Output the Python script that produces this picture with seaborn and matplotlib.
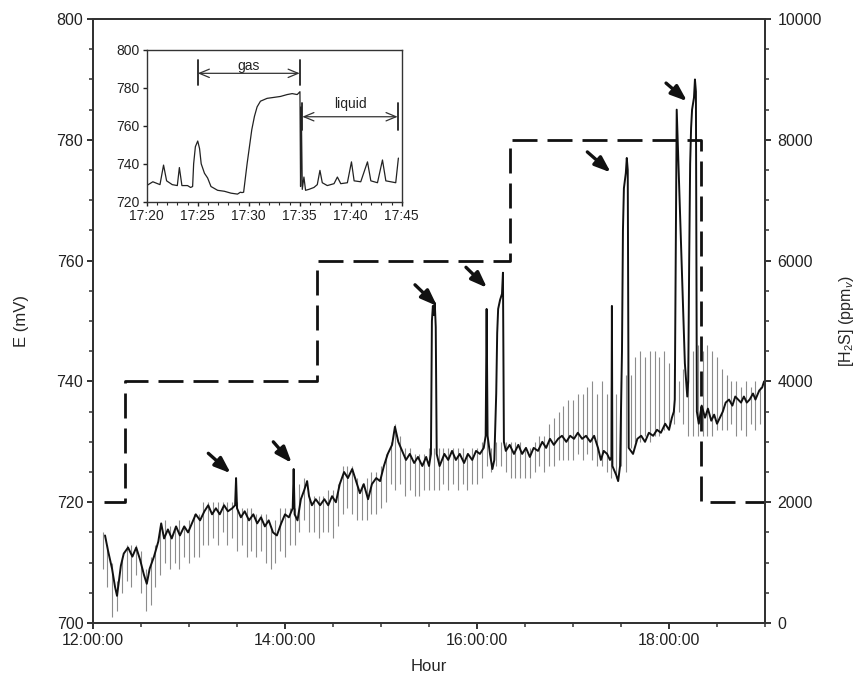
import numpy as np
import pandas as pd
import matplotlib
matplotlib.use("Agg")
import matplotlib.pyplot as plt
from matplotlib.ticker import MultipleLocator
import seaborn as sns

# ---------------- data ----------------
# main electrode potential trace (hours since midnight, mV)
black_t = [12.125, 12.156, 12.198, 12.229, 12.25, 12.27, 12.29, 12.32, 12.365, 12.41,
           12.45, 12.49, 12.53, 12.56, 12.59, 12.635, 12.68, 12.71, 12.74, 12.78,
           12.82, 12.865, 12.905, 12.95, 12.99, 13.03, 13.07, 13.115, 13.16, 13.2,
           13.24, 13.28, 13.32, 13.365, 13.405, 13.45, 13.48, 13.49, 13.5, 13.54,
           13.58, 13.625, 13.67, 13.71, 13.75, 13.79, 13.83, 13.875, 13.915, 13.96,
           14.0, 14.04, 14.08, 14.09, 14.1, 14.13, 14.165, 14.2, 14.23, 14.25,
           14.28, 14.32, 14.365, 14.41, 14.45, 14.49, 14.53, 14.57, 14.615, 14.655,
           14.7, 14.74, 14.78, 14.82, 14.865, 14.905, 14.95, 14.99, 15.03, 15.07,
           15.115, 15.145, 15.18, 15.22, 15.26, 15.3, 15.345, 15.385, 15.43, 15.47,
           15.5, 15.52, 15.53, 15.54, 15.55, 15.56, 15.57, 15.58, 15.61, 15.66,
           15.7, 15.74, 15.78, 15.82, 15.865, 15.905, 15.95, 15.99, 16.03, 16.07,
           16.09, 16.1, 16.11, 16.135, 16.16, 16.18, 16.2, 16.21, 16.22, 16.24,
           16.26, 16.27, 16.28, 16.3, 16.34, 16.385, 16.43, 16.47, 16.51, 16.55,
           16.59, 16.635, 16.68, 16.72, 16.76, 16.8, 16.845, 16.885, 16.93, 16.97,
           17.01, 17.05, 17.095, 17.135, 17.18, 17.22, 17.26, 17.29, 17.32, 17.355,
           17.385, 17.4, 17.405, 17.41, 17.45, 17.47, 17.49, 17.51, 17.52, 17.53,
           17.55, 17.56, 17.57, 17.58, 17.625, 17.67, 17.71, 17.75, 17.79, 17.835,
           17.875, 17.915, 17.96, 18.0, 18.03, 18.05, 18.06, 18.07, 18.08, 18.1,
           18.125, 18.145, 18.165, 18.19, 18.2, 18.21, 18.22, 18.23, 18.24, 18.26,
           18.27, 18.28, 18.29, 18.31, 18.34, 18.375, 18.405, 18.44, 18.47, 18.5,
           18.53, 18.56, 18.59, 18.625, 18.66, 18.69, 18.72, 18.75, 18.78, 18.81,
           18.84, 18.875, 18.9, 18.94, 18.97, 18.99]
black_E = [714.5, 712, 709, 706, 704.5, 707, 709.5, 711.5, 712.5, 711,
           712.5, 710.5, 708, 706.5, 709, 711, 713.5, 716.5, 714, 715.5,
           714, 716, 714.5, 716, 715, 716.5, 718, 717, 718.5, 719.5,
           718, 719, 718, 719.5, 718.5, 719, 719.5, 724, 719, 717.5,
           718.5, 717, 718, 716.5, 717.5, 716, 717, 715, 714.5, 716.5,
           718, 717.5, 719, 725.5, 718, 717, 720.5, 722, 723.5, 721,
           719.5, 720.5, 719.5, 720.5, 719.5, 721, 720, 723, 725, 724,
           725.5, 723.5, 721.5, 723, 720.5, 723, 724, 723.5, 726, 728,
           729.5, 732.5, 730, 728.5, 727, 728, 726.5, 727.5, 726, 727.5,
           726, 728, 750, 752.5, 751, 753, 749, 728, 726, 728,
           727, 728.5, 727, 728, 726.5, 728, 727, 728.5, 728, 729,
           731, 752, 731, 728, 725.5, 727, 738, 748, 752, 753.5,
           754.5, 758, 730, 728.5, 729.5, 728, 729.5, 728, 729, 727.5,
           729, 728.5, 730, 729, 730.5, 729.5, 730.5, 731, 730, 731,
           730.5, 731.5, 730.5, 731, 730, 731, 729, 727, 728.5, 728,
           727, 727.5, 752.5, 726, 724.5, 723.5, 726, 745, 765, 772,
           774.5, 777, 775, 729, 728, 730.5, 731, 730, 731.5, 731,
           732, 731.5, 733, 732, 734, 735, 737, 760, 785, 775,
           762, 752, 743, 737.5, 740, 760, 776, 782, 785, 787,
           790, 788, 735, 733, 736, 734, 735.5, 733.5, 734.5, 733,
           734, 735, 736.5, 737, 736, 737.5, 737, 736.5, 737.5, 736.5,
           737, 738, 737, 738.5, 739, 740]

# rapid oscillation of the raw signal (gray hairlines), one every 3 min, 12:06 -> 19:00
gray_hi = [715, 713, 710, 707, 711, 713, 713, 713, 712, 709,
           711, 713, 716, 717, 716, 716, 717, 716, 717, 718,
           718, 720, 720, 720, 720, 720, 720, 720, 720, 719,
           719, 719, 718, 718, 718, 716, 717, 719, 719, 719,
           719, 723, 724, 721, 721, 721, 721, 722, 722, 723,
           726, 726, 726, 724, 723, 724, 725, 725, 726, 728,
           730, 733, 731, 729, 729, 728, 728, 728, 729, 729,
           729, 729, 729, 729, 729, 729, 728, 729, 729, 730,
           731, 729, 730, 730, 730, 730, 730, 730, 729, 729,
           730, 731, 731, 733, 734, 735, 736, 737, 737, 738,
           738, 739, 740, 738, 740, 738, 739, 738, 740, 741,
           741, 744, 745, 744, 745, 745, 744, 745, 743, 742,
           740, 742, 744, 745, 746, 745, 746, 745, 744, 742,
           741, 740, 740, 739, 740, 739, 740, 739, 740]
gray_lo = [709, 706, 701, 702, 705, 707, 706, 708, 705, 702,
           703, 706, 708, 710, 709, 710, 709, 711, 710, 711,
           711, 713, 713, 714, 713, 715, 713, 714, 712, 713,
           711, 712, 711, 712, 710, 709, 710, 712, 711, 713,
           713, 715, 717, 715, 715, 714, 715, 715, 714, 716,
           718, 719, 718, 717, 717, 717, 718, 718, 719, 720,
           723, 722, 723, 721, 722, 721, 721, 722, 722, 722,
           722, 723, 722, 723, 722, 723, 722, 723, 723, 724,
           726, 725, 726, 726, 725, 724, 724, 724, 724, 724,
           725, 726, 725, 726, 726, 727, 727, 727, 727, 728,
           727, 728, 727, 726, 726, 725, 724, 724, 726, 725,
           729, 730, 730, 731, 730, 731, 731, 732, 732, 733,
           735, 733, 731, 731, 731, 731, 731, 731, 732, 732,
           732, 733, 731, 732, 731, 733, 732, 733, 734]
gray_start, gray_end = 12.10, 19.00

# H2S concentration steps (ppmv)
h2s_t = [12.115, 12.333, 14.333, 16.34, 18.33, 19.0]
h2s_ppm = [2000, 4000, 6000, 8000, 2000, 2000]

# arrows marking responses (tail -> head, hours / mV)
arrow_tail_t = [13.201, 13.878, 15.354, 15.885, 17.149, 17.969]
arrow_tail_E = [728.1, 730.0, 756.0, 758.9, 778.0, 789.4]
arrow_head_t = [13.434, 14.070, 15.583, 16.104, 17.393, 18.188]
arrow_head_E = [724.8, 726.5, 752.5, 755.5, 774.6, 786.4]

x_ticks = [12, 14, 16, 18]
x_tick_labels = ["12:00:00", "14:00:00", "16:00:00", "18:00:00"]

# inset (minutes after 17:20, mV)
inset_min = [0.0, 0.6, 1.3, 1.65, 1.95, 2.5, 3.0, 3.2, 3.45, 4.0,
             4.3, 4.5, 4.6, 4.77, 5.0, 5.18, 5.34, 5.66, 5.97, 6.3,
             6.95, 7.61, 8.26, 8.9, 9.18, 9.34, 9.5, 9.84, 10.3, 10.56,
             10.82, 11.15, 11.8, 12.46, 13.11, 13.77, 14.26, 14.75, 15.02, 15.08,
             15.15, 15.25, 15.41, 15.57, 15.9, 16.39, 16.72, 16.98, 17.21, 17.7,
             18.36, 18.69, 19.02, 19.67, 20.07, 20.33, 20.98, 21.64, 21.97, 22.62,
             23.11, 23.44, 23.93, 24.41, 24.67]
inset_E = [728.5, 730.5, 729, 739.3, 731, 729, 728.5, 738, 728.5, 728.5,
           727.5, 728, 740, 749, 752, 748, 740, 735, 732.5, 728,
           726, 725.5, 724.5, 724, 725, 724.8, 725, 740, 758, 765,
           770, 773, 774.5, 775, 775.5, 776.5, 777, 776.5, 778, 728,
           770, 726.5, 733, 726, 726.5, 727.5, 729, 736.5, 730, 728.5,
           729.5, 733, 729.5, 730, 741, 731, 730.5, 741, 731, 730,
           742, 731, 730.5, 730, 743]
inset_tick_labels = ["17:20", "17:25", "17:30", "17:35", "17:40", "17:45"]
gas_span = (5.0, 15.0)
liq_span = (15.25, 24.6)

# ---------------- style ----------------
sns.set_theme(style="ticks")
plt.rcParams["font.family"] = ["Liberation Sans", "DejaVu Sans"]
plt.rcParams["mathtext.fontset"] = "custom"
plt.rcParams["mathtext.rm"] = "Liberation Sans"
plt.rcParams["mathtext.it"] = "Liberation Sans:italic"

fig = plt.figure(figsize=(8.59, 6.83), dpi=100)
ax = fig.add_axes([0.1083, 0.0878, 0.7823, 0.8843])
ax2 = ax.twinx()

gray_t = np.linspace(gray_start, gray_end, len(gray_hi))
df_black = pd.DataFrame({"t": black_t, "E": black_E})
df_h2s = pd.DataFrame({"t": h2s_t, "ppm": h2s_ppm})

ax.vlines(gray_t, gray_lo, gray_hi, color="#8c8c8c", lw=0.8)
sns.lineplot(data=df_black, x="t", y="E", ax=ax, color="#111111", lw=1.4,
             estimator=None, sort=False)

ax2.step(df_h2s["t"], df_h2s["ppm"], where="post", color="#111111", lw=2.0,
         dashes=(9, 3.6))

for tt, te, ht, he in zip(arrow_tail_t, arrow_tail_E, arrow_head_t, arrow_head_E):
    ax.annotate("", xy=(ht, he), xytext=(tt, te),
                arrowprops=dict(arrowstyle="-|>,head_length=0.8,head_width=0.3",
                                lw=2.4, color="#111111", shrinkA=0, shrinkB=0))

ax.set_xlim(12, 19)
ax.set_ylim(700, 800)
ax2.set_ylim(0, 10000)
ax.set_xticks(x_ticks)
ax.set_xticklabels(x_tick_labels)
ax.xaxis.set_minor_locator(MultipleLocator(0.5))
ax.yaxis.set_major_locator(MultipleLocator(20))
ax.yaxis.set_minor_locator(MultipleLocator(5))
ax2.yaxis.set_major_locator(MultipleLocator(2000))
ax2.yaxis.set_minor_locator(MultipleLocator(500))

for a in (ax, ax2):
    for s in a.spines.values():
        s.set_visible(True)
        s.set_linewidth(1.4)
        s.set_color("#333333")
ax.tick_params(axis="both", which="major", direction="out", length=4, width=1.3,
               labelsize=11.5, colors="#222222", pad=3)
ax.tick_params(axis="both", which="minor", direction="out", length=3, width=1.1,
               colors="#333333")
ax.tick_params(axis="x", top=False, which="both")
ax2.tick_params(axis="y", which="major", direction="out", length=4, width=1.3,
                labelsize=11.5, colors="#222222", pad=5)
ax2.tick_params(axis="y", which="minor", direction="out", length=3, width=1.1,
                colors="#333333")

ax.set_xlabel("Hour", fontsize=12, labelpad=8)
ax.set_ylabel("E (mV)", fontsize=12, labelpad=20)
ax2.set_ylabel(r"[H$_2$S] (ppm$_v$)", fontsize=11.5, labelpad=11)

# ---------------- inset ----------------
axi = fig.add_axes([0.1708, 0.7047, 0.2969, 0.2221])
df_in = pd.DataFrame({"m": inset_min, "E": inset_E})
sns.lineplot(data=df_in, x="m", y="E", ax=axi, color="#222222", lw=0.9,
             estimator=None, sort=False)
axi.set_xlim(0, 25)
axi.set_ylim(720, 800)
axi.set_xticks([0, 5, 10, 15, 20, 25])
axi.set_xticklabels(inset_tick_labels)
axi.xaxis.set_minor_locator(MultipleLocator(1))
axi.set_yticks([720, 740, 760, 780, 800])
for s in axi.spines.values():
    s.set_visible(True)
    s.set_linewidth(1.0)
    s.set_color("#333333")
axi.tick_params(axis="both", which="major", direction="out", length=3, width=1.0,
                labelsize=10, colors="#222222", pad=2)
axi.tick_params(axis="x", which="minor", direction="out", length=2, width=0.8)
axi.set_xlabel("")
axi.set_ylabel("")

for (x0, x1), yarr, lo, hi, lab, ytxt in [(gas_span, 787.7, 781.5, 794.7, "gas", 791.5),
                                          (liq_span, 764.8, 757.8, 771.8, "liquid", 771.5)]:
    axi.annotate("", xy=(x1, yarr), xytext=(x0, yarr),
                 arrowprops=dict(arrowstyle="<->,head_length=0.6,head_width=0.25",
                                 lw=0.9, color="#333333", shrinkA=0, shrinkB=0))
    axi.plot([x0, x0], [lo, hi], color="#222222", lw=1.3)
    axi.plot([x1, x1], [lo, hi], color="#222222", lw=1.3)
    axi.text((x0 + x1) / 2, ytxt, lab, ha="center", va="center", fontsize=10,
             color="#222222")

fig.savefig("out.png", dpi=100)
